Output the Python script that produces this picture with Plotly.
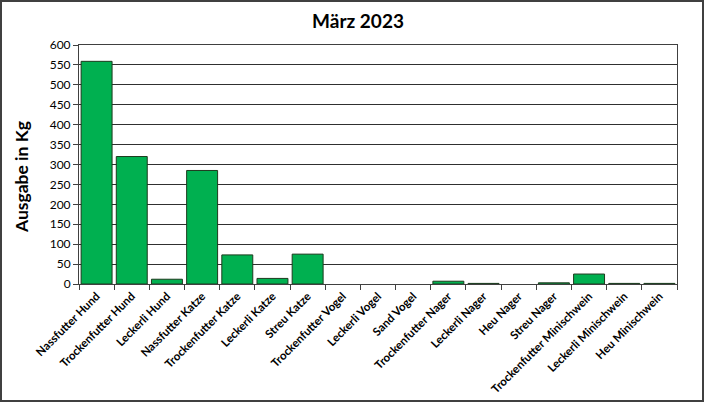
import plotly.graph_objects as go

categories = ["Nassfutter Hund", "Trockenfutter Hund", "Leckerli Hund", "Nassfutter Katze",
              "Trockenfutter Katze", "Leckerli Katze", "Streu Katze", "Trockenfutter Vogel",
              "Leckerli Vogel", "Sand Vogel", "Trockenfutter Nager", "Leckerli Nager",
              "Heu Nager", "Streu Nager", "Trockenfutter Minischwein", "Leckerli Minischwein",
              "Heu Minischwein"]
values = [559, 320, 12, 285, 73, 14, 75, 0, 0, 0, 7, 1.5, 0, 3, 25, 1.5, 1.5]
y_ticks = [0, 50, 100, 150, 200, 250, 300, 350, 400, 450, 500, 550, 600]

W, H = 704, 402
L, R, T, B = 79, 27, 45, 118
FONT = "Lato, 'Open Sans', sans-serif"

fig = go.Figure(go.Bar(
    x=categories, y=values,
    marker=dict(color="#00B050",
                line=dict(color="#1E3A1E", width=[1 if v > 0 else 0 for v in values])),
    width=0.88,
))

pw = W - L - R
ph = H - T - B
fig.update_layout(
    width=W, height=H,
    margin=dict(l=L, r=R, t=T, b=B, autoexpand=False),
    paper_bgcolor="white", plot_bgcolor="white",
    showlegend=False,
    font=dict(family=FONT, color="black"),
    title=dict(text="<b>März 2023</b>", x=358 / W, xanchor="center",
               y=1 - 21 / H, yanchor="middle", font=dict(size=19, family=FONT)),
    xaxis=dict(
        type="category", tickangle=-45, tickfont=dict(size=11.5, family=FONT, weight="bold"),
        showline=True, linecolor="#404040", linewidth=1, mirror=True,
        ticks="outside", ticklen=5, tickcolor="#404040", tickson="boundaries",
        showgrid=False, range=[-0.5, len(categories) - 0.5],
    ),
    yaxis=dict(
        range=[0, 600], tickvals=y_ticks, tickfont=dict(size=12, family=FONT),
        showline=True, linecolor="#404040", linewidth=1, mirror=True,
        ticks="outside", ticklen=5, tickcolor="#404040",
        showgrid=True, gridcolor="#303030", gridwidth=1,
        zeroline=False,
    ),
    annotations=[dict(
        text="<b>Ausgabe in Kg</b>", textangle=-90, showarrow=False,
        xref="paper", yref="paper",
        x=(21 - L) / pw, y=(H - B - 177) / ph, xanchor="center", yanchor="middle",
        font=dict(size=17.5, family=FONT),
    )],
    shapes=[dict(
        type="rect", xref="paper", yref="paper",
        x0=(1 - L) / pw, x1=(W - 1 - L) / pw,
        y0=-(H - 1 - T - ph) / ph, y1=1 + (T - 1) / ph,
        line=dict(color="#404040", width=2), fillcolor="rgba(0,0,0,0)", layer="above",
    )],
)

fig.write_html("out.html", config={"displayModeBar": False},
               post_script="document.body.style.margin='0';")
